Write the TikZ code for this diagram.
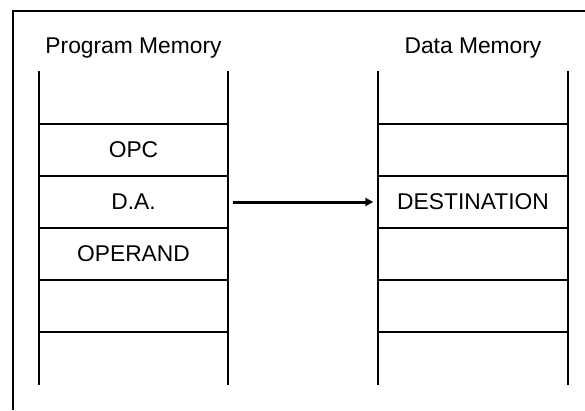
\documentclass[tikz,border=0pt]{standalone}
\usepackage{fontspec}
\setmainfont{Liberation Sans}
\usetikzlibrary{arrows.meta}

\begin{document}
\begin{tikzpicture}[x=1pt,y=1pt,yscale=-1,xscale=1,
  memtext/.style={inner sep=0pt,font=\fontsize{22.8}{26}\selectfont},
  cell/.style={memtext,minimum width=189pt,minimum height=52pt},
  rung/.style={line width=2.3pt},
  rail/.style={line width=1.6pt}]
\useasboundingbox (0,0) rectangle (585,410);

%Frame
\draw [line width=2]  (12.5,410) -- (12.5,11) -- (585,11) ;

% Text Node
\node [memtext] (ptitle) at (133.5,48) {Program Memory};
% Text Node
\node [memtext] (dtitle) at (473,48) {Data Memory};

% Program memory cells
\node [cell] (popc) at (133.5,150) {OPC};
\node [cell] (pda) at (133.5,202) {D.A.};
\node [cell] (poper) at (133.5,254) {OPERAND};
% Data memory cells
\node [cell] (dabove) at (473,150) {};
\node [cell] (ddest) at (473,202) {DESTINATION};
\node [cell] (dbelow) at (473,254) {};

%Straight Lines
\draw [rail]  (39,71) -- (39,385) ;
\draw [rail]  (228,71) -- (228,385) ;
\draw [rail]  (378,71) -- (378,385) ;
\draw [rail]  (568,71) -- (568,385) ;

%Straight Lines
\draw [rung]  (39,124) -- (228,124) ;
\draw [rung]  (39,176) -- (228,176) ;
\draw [rung]  (39,228) -- (228,228) ;
\draw [rung]  (39,280) -- (228,280) ;
\draw [rung]  (39,332) -- (228,332) ;
%Straight Lines
\draw [rung]  (378,124) -- (568,124) ;
\draw [rung]  (378,176) -- (568,176) ;
\draw [rung]  (378,228) -- (568,228) ;
\draw [rung]  (378,280) -- (568,280) ;
\draw [rung]  (378,332) -- (568,332) ;

%Arrow
\draw [line width=3pt,-{Triangle[length=8pt,width=8pt]}]  ([xshift=5pt]pda.east) -- ([xshift=-5pt]ddest.west) ;

\end{tikzpicture}
\end{document}
